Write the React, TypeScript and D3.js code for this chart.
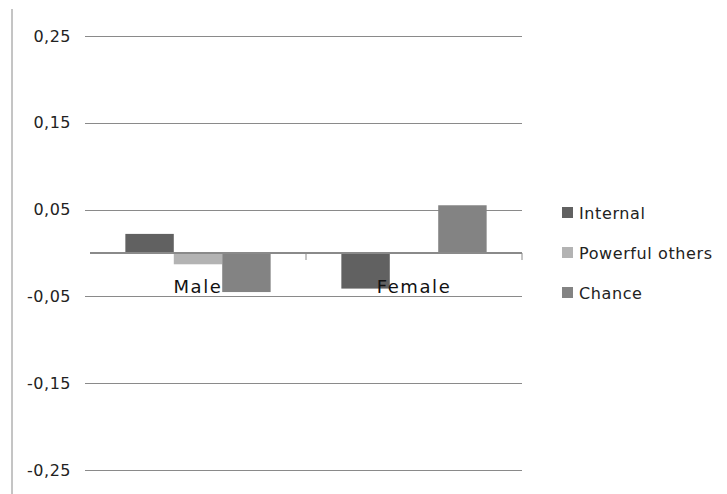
import React from "react";
import * as d3 from "d3";

const categories = ["Male", "Female"];
const seriesNames = ["Internal", "Powerful others", "Chance"];
const internalValues = [0.022, -0.041];
const powerfulValues = [-0.013, 0];
const chanceValues = [-0.045, 0.055];
const tickValues = [0.25, 0.15, 0.05, -0.05, -0.15, -0.25];
const seriesColors = ["#616161", "#b3b3b3", "#838383"];

const W = 727;
const H = 494;
const plot = { left: 90, right: 522, top: 36, bottom: 470 };

export default function App() {
  const y = d3.scaleLinear().domain([-0.25, 0.25]).range([plot.bottom, plot.top]);
  const x0 = d3.scaleBand<string>().domain(categories).range([plot.left, plot.right]).paddingInner(0).paddingOuter(0);
  const x1 = d3
    .scaleBand<string>()
    .domain(seriesNames)
    .range([0, x0.bandwidth()])
    .paddingOuter(0.73)
    .paddingInner(0);
  const series = [internalValues, powerfulValues, chanceValues];
  const fmt = (v: number) => d3.format(".2f")(v).replace(".", ",").replace("−", "-");
  const y0 = y(0);

  return (
    <svg width={W} height={H} style={{ position: "absolute", left: 0, top: 0, background: "#fff" }}>
      <line x1={12} x2={12} y1={9} y2={H} stroke="#8a8a8a" strokeWidth={1} />
      {tickValues.map((t) => (
        <g key={t}>
          <line x1={85} x2={plot.right} y1={Math.round(y(t)) + 0.5} y2={Math.round(y(t)) + 0.5} stroke="#8a8a8a" />
          <text
            x={71}
            y={y(t)}
            dy="0.35em"
            textAnchor="end"
            fontFamily="DejaVu Sans"
            fontSize={16}
            letterSpacing={0.5}
            fill="#222"
          >
            {fmt(t)}
          </text>
        </g>
      ))}
      {categories.map((c, ci) =>
        series.map((vals, si) => {
          const v = vals[ci];
          const top = Math.min(y(v), y0);
          const h = Math.abs(y(v) - y0);
          return (
            <rect
              key={c + si}
              x={(x0(c) ?? 0) + (x1(seriesNames[si]) ?? 0)}
              y={top}
              width={x1.bandwidth()}
              height={h}
              fill={seriesColors[si]}
            />
          );
        })
      )}
      <line x1={plot.left} x2={plot.right} y1={y0} y2={y0} stroke="#8a8a8a" strokeWidth={2} />
      {[plot.left + x0.bandwidth(), plot.right].map((tx) => (
        <line key={tx} x1={tx} x2={tx} y1={y0} y2={y0 + 7} stroke="#8a8a8a" />
      ))}
      {categories.map((c) => (
        <text
          key={c}
          x={(x0(c) ?? 0) + x0.bandwidth() / 2}
          y={293}
          textAnchor="middle"
          fontFamily="DejaVu Sans"
          fontSize={18}
          letterSpacing={1.6}
          fill="#111"
        >
          {c}
        </text>
      ))}
      {seriesNames.map((s, i) => (
        <g key={s} transform={`translate(562, ${213 + i * 40})`}>
          <rect x={0} y={-6} width={11} height={11} fill={seriesColors[i]} />
          <text x={17} y={0} dy="0.35em" fontFamily="DejaVu Sans" fontSize={16} letterSpacing={0.6} fill="#222">
            {s}
          </text>
        </g>
      ))}
    </svg>
  );
}
